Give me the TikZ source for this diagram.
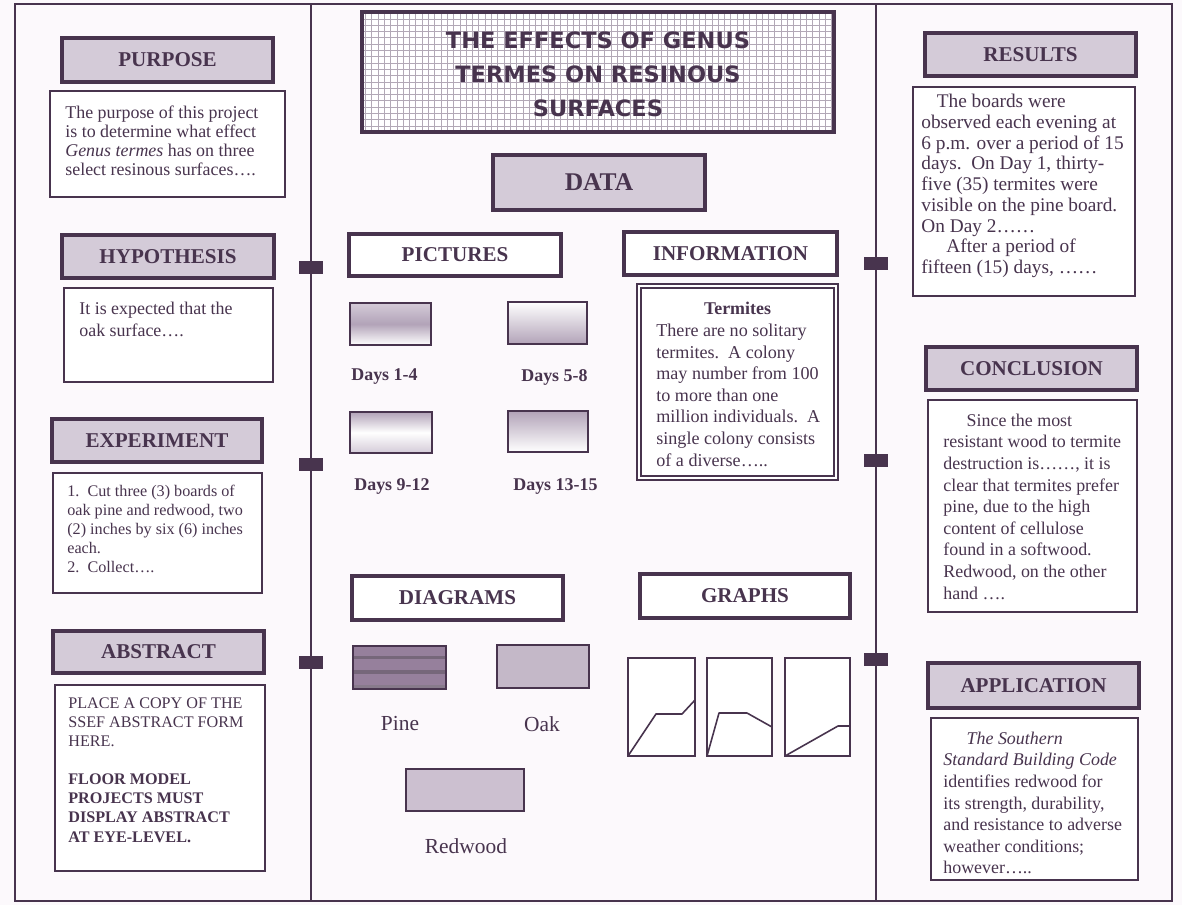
\documentclass[tikz,border=0pt]{standalone}
\usepackage{fontspec}
\setmainfont{Liberation Serif}
\newfontfamily\titlefont{DejaVu Sans}
\usetikzlibrary{calc}
\definecolor{ink}{RGB}{72,52,78}
\definecolor{paper}{RGB}{252,249,252}
\definecolor{halftone}{RGB}{212,203,216}
\definecolor{shadetone}{RGB}{178,163,184}
\definecolor{gridline}{RGB}{178,168,182}
\definecolor{pinewood}{RGB}{150,128,156}
\definecolor{oakwood}{RGB}{196,184,200}
\definecolor{redwood}{RGB}{204,192,208}
\tikzset{
  heading/.style={draw=ink, line width=2.3pt, fill=halftone},
  openhead/.style={draw=ink, line width=2.3pt, fill=white},
  panel/.style={draw=ink, line width=0.8pt, fill=white},
  headlabel/.style={text=ink, font=\fontsize{12}{14}\selectfont\bfseries, inner sep=0pt},
  para/.style={anchor=north west, inner sep=0pt, align=left, text=ink},
  daylabel/.style={anchor=west, inner sep=0pt, text=ink, font=\fontsize{10.2}{12}\selectfont\bfseries},
  woodlabel/.style={inner sep=0pt, text=ink, font=\fontsize{12.2}{14}\selectfont},
  thumb/.style={draw=ink, line width=0.8pt},
  graphline/.style={draw=ink, line width=0.9pt, line join=round},
}

\begin{document}
\begin{tikzpicture}[x=0.02cm, y=-0.02cm]
  \useasboundingbox[fill=paper] (0,0) rectangle (1182,905);

  % board outline and folds
  \draw[ink, line width=1.4pt] (15,4) rectangle (1172,901);
  \draw[ink, line width=1.4pt] (311,4) -- (311,901);
  \draw[ink, line width=1.4pt] (876,4) -- (876,901);
  \foreach \hx/\hy in {311/268, 311/465, 311/663, 876/264, 876/461, 876/660}
    \fill[ink] (\hx-12,\hy-7) rectangle (\hx+12,\hy+6);

  % left panel
  \draw[heading] (62,38) rectangle (273,82);
  \node[headlabel] (purpose) at (167.5,60) {PURPOSE};
  \draw[panel] (50,91) rectangle (285,197);
  \node[para, font=\fontsize{10.2}{10.8}\selectfont] (purposetxt) at (65,106)
    {The purpose of this project\\is to determine what effect\\\textit{Genus termes} has on three\\select resinous surfaces\ldots.};

  \draw[heading] (62,235) rectangle (274,278);
  \node[headlabel] (hypothesis) at (168,256.5) {HYPOTHESIS};
  \draw[panel] (64,288) rectangle (273,382);
  \node[para, font=\fontsize{10.2}{12.3}\selectfont] (hypothesistxt) at (79,302)
    {It is expected that the\\oak surface\ldots.};

  \draw[heading] (52,419) rectangle (262,462);
  \node[headlabel] (experiment) at (157,440.5) {EXPERIMENT};
  \draw[panel] (53,473) rectangle (262,593);
  \node[para, font=\fontsize{9.2}{10.8}\selectfont] (experimenttxt) at (67,485)
    {1.\ \ Cut three (3) boards of\\oak pine and redwood, two\\(2) inches by six (6) inches\\each.\\2.\ \ Collect\ldots.};

  \draw[heading] (53,631) rectangle (264,673);
  \node[headlabel] (abstract) at (158.5,652) {ABSTRACT};
  \draw[panel] (55,685) rectangle (265,871);
  \node[para, font=\fontsize{9.2}{10.9}\selectfont] (abstracttxt) at (68,697)
    {PLACE A COPY OF THE\\SSEF ABSTRACT FORM\\HERE.\\[10.9pt]
     \textbf{FLOOR MODEL}\\\textbf{PROJECTS MUST}\\\textbf{DISPLAY ABSTRACT}\\\textbf{AT EYE-LEVEL.}};

  % centre panel
  \draw[fill=white] (362,12) rectangle (834,132);
  \draw[gridline, line width=0.35pt, step=0.126cm] (362,12) grid (834,132);
  \draw[ink, line width=2.3pt] (362,12) rectangle (834,132);
  \node[text=ink, align=center, inner sep=0pt, font=\titlefont\bfseries\fontsize{12.8}{19.2}\selectfont] (title) at (598,74.5)
    {THE EFFECTS OF GENUS\\TERMES ON RESINOUS\\SURFACES};

  \draw[heading] (493,155) rectangle (705,210);
  \node[headlabel, font=\fontsize{14.5}{16}\selectfont\bfseries] (data) at (599,182.5) {DATA};

  \draw[openhead] (349,234) rectangle (561,276);
  \node[headlabel] (pictures) at (455,255) {PICTURES};
  \draw[openhead] (624,232) rectangle (837,275);
  \node[headlabel] (information) at (730.5,253.5) {INFORMATION};

  % day pictures
  \shade[top color=halftone, bottom color=white, middle color=shadetone] (350,303) rectangle (431,345);
  \draw[thumb] (350,303) rectangle (431,345);
  \shade[top color=white, bottom color=shadetone] (508,302) rectangle (587,344);
  \draw[thumb] (508,302) rectangle (587,344);
  \shade[top color=shadetone, bottom color=halftone, middle color=white] (350,412) rectangle (432,453);
  \draw[thumb] (350,412) rectangle (432,453);
  \shade[top color=shadetone, bottom color=white] (508,411) rectangle (588,452);
  \draw[thumb] (508,411) rectangle (588,452);
  \node[daylabel] (day1) at (351,377) {Days 1-4};
  \node[daylabel] (day5) at (521,377) {Days 5-8};
  \node[daylabel] (day9) at (354,486) {Days 9-12};
  \node[daylabel] (day13) at (513,486) {Days 13-15};

  % termite facts
  \draw[ink, line width=0.8pt, fill=white] (637,284) rectangle (838,480);
  \draw[ink, line width=0.6pt] (641,288) rectangle (834,476);
  \node[text=ink, inner sep=0pt, font=\fontsize{10.2}{12}\selectfont\bfseries] (termites) at (737.5,308) {Termites};
  \node[para, font=\fontsize{10.3}{12.3}\selectfont] (termitestxt) at (656,323.5)
    {There are no solitary\\termites.\ \ A colony\\may number from 100\\to more than one\\million individuals.\ \ A\\single colony consists\\of a diverse\ldots..};

  \draw[openhead] (352,576) rectangle (563,620);
  \node[headlabel] (diagrams) at (457.5,598) {DIAGRAMS};
  \draw[openhead] (640,574) rectangle (850,618);
  \node[headlabel] (graphs) at (745,596) {GRAPHS};

  % wood samples
  \fill[pinewood] (353,646) rectangle (446,689);
  \fill[ink!75] (353,656) rectangle (446,659);
  \fill[ink!75] (353,670) rectangle (446,674);
  \fill[ink!65] (353,685) rectangle (446,689);
  \draw[thumb] (353,646) rectangle (446,689);
  \draw[thumb, fill=oakwood] (497,645) rectangle (589,688);
  \draw[thumb, fill=redwood] (406,769) rectangle (524,811);
  \node[woodlabel] (pine) at (400,724) {Pine};
  \node[woodlabel] (oak) at (542,724) {Oak};
  \node[woodlabel] (redwoodlbl) at (466,846) {Redwood};

  % small graphs
  \foreach \gx/\gr in {628/695, 707/772, 785/850}
    \draw[thumb, fill=white] (\gx,658) rectangle (\gr,756);
  \draw[graphline] (628,756) -- (656,714) -- (682,714) -- (695,700);
  \draw[graphline] (707,756) -- (719,713) -- (747,713) -- (772,727);
  \draw[graphline] (785,756) -- (838,726) -- (850,726);

  % right panel
  \draw[heading] (925,33) rectangle (1136,76);
  \node[headlabel] (results) at (1030.5,54.5) {RESULTS};
  \draw[panel] (913,87) rectangle (1135,296);
  \node[para, font=\fontsize{11}{11.8}\selectfont] (resultstxt) at (921,94)
    {\hspace*{0.8em}The boards were\\observed each evening at\\6 p.m. over a period of 15\\days.\ \ On Day 1, thirty-\\five (35) termites were\\visible on the pine board.\\On Day 2\ldots\ldots\\\hspace*{1.3em}After a period of\\fifteen (15) days, \ldots\ldots};

  \draw[heading] (926,347) rectangle (1137,390);
  \node[headlabel] (conclusion) at (1031.5,368.5) {CONCLUSION};
  \draw[panel] (928,400) rectangle (1137,612);
  \node[para, font=\fontsize{10.2}{12.3}\selectfont] (conclusiontxt) at (943,413.5)
    {\hspace*{1.3em}Since the most\\resistant wood to termite\\destruction is\ldots\ldots, it is\\clear that termites prefer\\pine, due to the high\\content of cellulose\\found in a softwood.\\Redwood, on the other\\hand \ldots.};

  \draw[heading] (928,663) rectangle (1139,708);
  \node[headlabel] (application) at (1033.5,685.5) {APPLICATION};
  \draw[panel] (931,718) rectangle (1138,880);
  \node[para, font=\fontsize{10.2}{12.3}\selectfont] (applicationtxt) at (943,731.5)
    {\hspace*{1.3em}\textit{The Southern}\\\textit{Standard Building Code}\\identifies redwood for\\its strength, durability,\\and resistance to adverse\\weather conditions;\\however\ldots..};
\end{tikzpicture}
\end{document}
